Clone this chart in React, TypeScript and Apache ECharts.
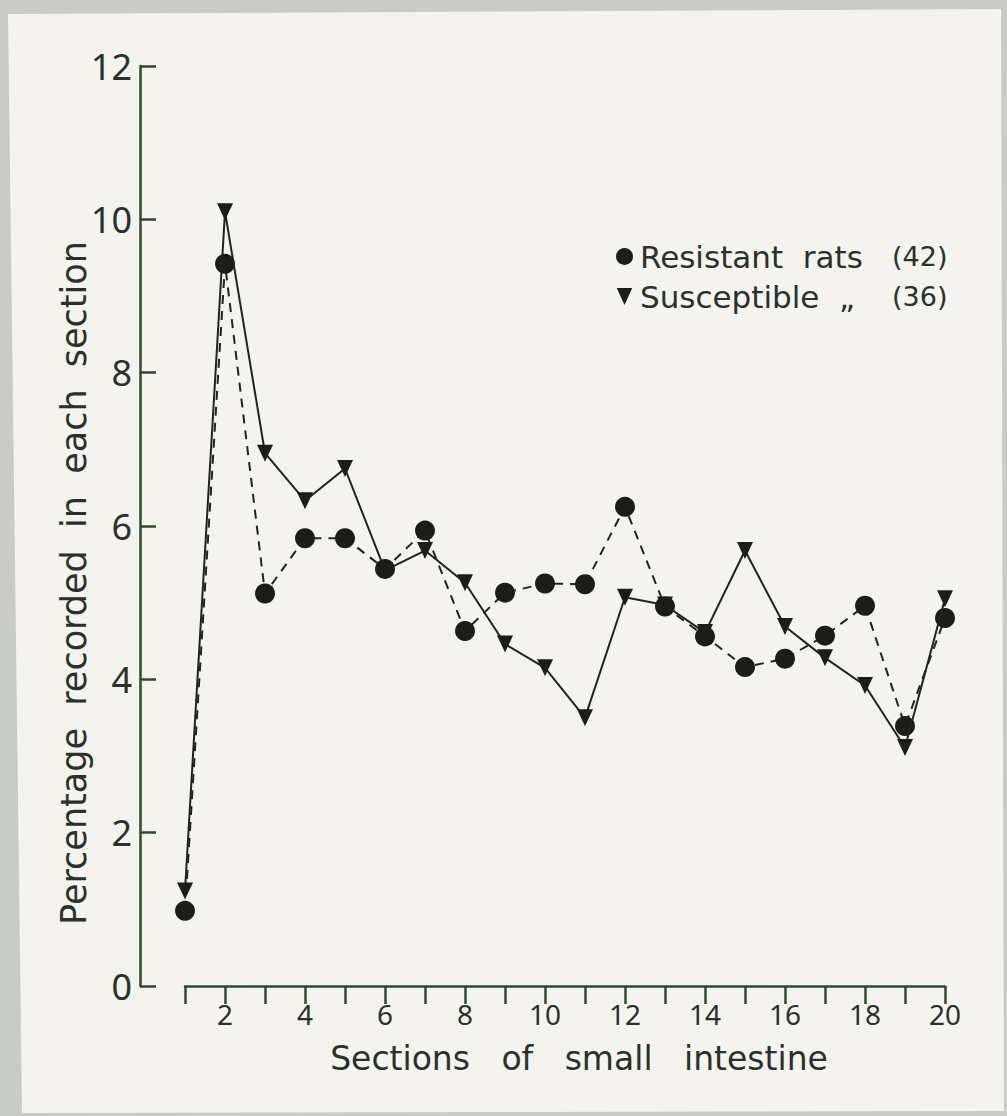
import React, { useEffect, useRef } from "react";
import * as echarts from "echarts";

// Sections of the small intestine, 1 (proximal) to 20 (distal)
const sections = [
  "1", "2", "3", "4", "5", "6", "7", "8", "9", "10",
  "11", "12", "13", "14", "15", "16", "17", "18", "19", "20",
];

// Percentage of worms recorded in each section
const resistant = [
  0.98, 9.42, 5.12, 5.84, 5.84, 5.44, 5.94, 4.63, 5.13, 5.25,
  5.24, 6.25, 4.95, 4.56, 4.16, 4.27, 4.57, 4.96, 3.39, 4.8,
];
const susceptible = [
  1.24, 10.1, 6.95, 6.33, 6.75, 5.42, 5.68, 5.26, 4.46, 4.15,
  3.5, 5.07, 4.97, 4.61, 5.68, 4.69, 4.28, 3.92, 3.11, 5.05,
];

const legendNames = ["Resistant rats", "Susceptible"];
const legendCounts = ["(42)", "(36)"];
const legendLabels = ["Resistant  rats", "Susceptible  \u201E"];

const xTitle = "Sections   of   small   intestine";
const yTitle = "Percentage  recorded  in  each  section";

const TRIANGLE = "path://M0,0L10,0L5,11Z";
const INK = "#1e241e";
const AXIS = "#2c4a2c";
const TEXT = "#28322a";
const FONT = "'Noto Sans', 'DejaVu Sans', sans-serif";
const WIDE = "'DejaVu Sans', 'Noto Sans', sans-serif";

export default function App() {
  const ref = useRef<HTMLDivElement>(null);

  useEffect(() => {
    document.body.style.margin = "0";
    if (!ref.current) return;
    const chart = echarts.init(ref.current, undefined, { renderer: "svg" });

    chart.setOption({
      animation: false,
      backgroundColor: "#c8cbc6",
      textStyle: { fontFamily: FONT },
      graphic: [
        {
          type: "polygon",
          z: -10,
          silent: true,
          shape: {
            points: [
              [8, 14],
              [1001, 9],
              [1004, 1111],
              [22, 1113],
            ],
          },
          style: { fill: "#f4f3ee" },
        },
        {
          type: "text",
          x: 579,
          y: 1058,
          silent: true,
          style: {
            text: xTitle,
            fontSize: 33,
            fontFamily: WIDE,
            fill: TEXT,
            textAlign: "center",
            textVerticalAlign: "middle",
          },
        },
        {
          type: "text",
          x: 74,
          y: 583,
          rotation: Math.PI / 2,
          silent: true,
          style: {
            text: yTitle,
            fontSize: 35,
            fontFamily: WIDE,
            fill: TEXT,
            textAlign: "center",
            textVerticalAlign: "middle",
          },
        },
      ],
      grid: { left: 185, right: 62, top: 66, bottom: 130, containLabel: false },
      legend: {
        orient: "vertical",
        left: 611,
        top: 236,
        itemWidth: 17,
        itemHeight: 17,
        itemGap: 9,
        data: [
          { name: legendNames[0], icon: "circle" },
          { name: legendNames[1], icon: TRIANGLE },
        ],
        formatter: (name: string) => {
          const i = legendNames.indexOf(name);
          return `{n|${legendLabels[i]}}{c|${legendCounts[i]}}`;
        },
        textStyle: {
          color: TEXT,
          fontFamily: WIDE,
          rich: {
            n: {
              fontSize: 31,
              width: 252,
              color: TEXT,
              fontFamily: WIDE,
              lineHeight: 32,
              padding: [0, 0, 0, 2],
            },
            c: { fontSize: 27, color: TEXT, fontFamily: WIDE, lineHeight: 32 },
          },
        },
      },
      xAxis: {
        type: "category",
        data: sections,
        boundaryGap: false,
        axisLine: { show: true, lineStyle: { color: AXIS, width: 2.5 } },
        axisTick: {
          show: true,
          interval: 0,
          length: 18,
          inside: false,
          lineStyle: { color: AXIS, width: 2.5 },
        },
        axisLabel: {
          interval: (index: number) => (index + 1) % 2 === 0,
          margin: 14,
          fontSize: 28,
          color: TEXT,
          fontFamily: FONT,
        },
        splitLine: { show: false },
      },
      yAxis: {
        type: "value",
        min: 0,
        max: 12,
        interval: 2,
        offset: 45,
        axisLine: { show: true, lineStyle: { color: AXIS, width: 2.5 } },
        axisTick: {
          show: true,
          inside: true,
          length: 16,
          lineStyle: { color: AXIS, width: 2.5 },
        },
        axisLabel: { margin: 8, fontSize: 36, color: TEXT, fontFamily: FONT },
        splitLine: { show: false },
      },
      series: [
        {
          name: legendNames[0],
          type: "line",
          data: resistant,
          symbol: "circle",
          symbolSize: 20,
          showAllSymbol: true,
          lineStyle: { color: INK, width: 2, type: [9, 7] },
          itemStyle: { color: "#1b1d1b" },
          z: 2,
        },
        {
          name: legendNames[1],
          type: "line",
          data: susceptible,
          symbol: TRIANGLE,
          symbolSize: [16, 17],
          showAllSymbol: true,
          lineStyle: { color: INK, width: 2, type: "solid" },
          itemStyle: { color: "#1b1d1b" },
          z: 3,
        },
      ],
    });

    return () => chart.dispose();
  }, []);

  return (
    <div
      ref={ref}
      style={{ position: "absolute", left: 0, top: 0, width: 1007, height: 1116 }}
    />
  );
}
